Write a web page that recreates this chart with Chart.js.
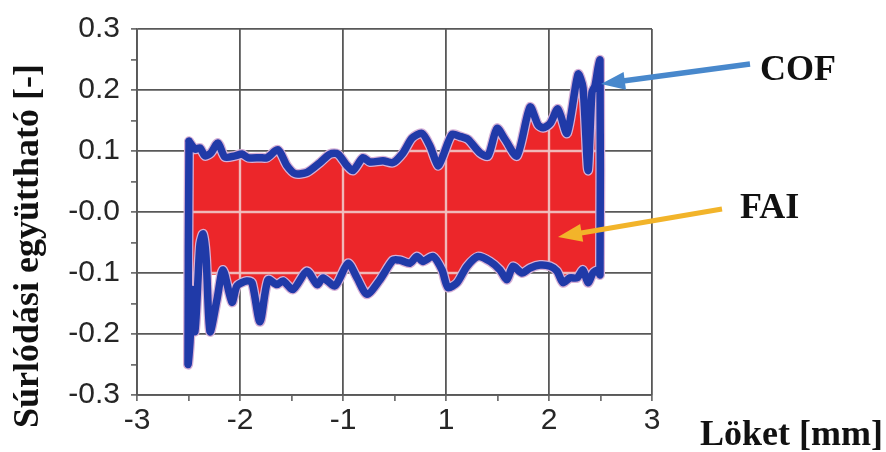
<!DOCTYPE html>
<html><head><meta charset="utf-8">
<script src="https://cdn.jsdelivr.net/npm/chart.js@4.4.0/dist/chart.umd.min.js"></script>
<style>html,body{margin:0;padding:0;background:#fff;}canvas{display:block;}</style>
</head><body>
<canvas id="c" width="886" height="452"></canvas>
<script>
// ---- data (x in axis-grid units: 0 = "-3", 1 = "-2", 2 = "-1", 3 = "1", 4 = "2", 5 = "3") ----
const xTickLabels = ['-3','-2','-1','1','2','3'];
const yTickValues = [-0.3,-0.2,-0.1,0,0.1,0.2,0.3];
const yTickLabels = ['-0.3','-0.2','-0.1','-0.0','0.1','0.2','0.3'];

const cofUpperX = [0.505,0.563,0.612,0.660,0.718,0.786,0.854,0.951,1.019,1.078,1.194,1.262,1.369,1.456,1.534,1.650,1.777,1.874,1.951,2.039,2.097,2.194,2.262,2.388,2.485,2.583,2.670,2.767,2.845,2.922,2.971,3.058,3.136,3.214,3.330,3.408,3.495,3.573,3.689,3.816,3.893,3.942,4.010,4.087,4.175,4.282,4.330,4.379,4.417,4.447,4.476,4.495];
const cofUpperY = [0.116,0.103,0.105,0.092,0.097,0.113,0.090,0.092,0.095,0.089,0.089,0.089,0.102,0.076,0.063,0.065,0.081,0.095,0.095,0.076,0.068,0.089,0.082,0.084,0.081,0.097,0.121,0.129,0.108,0.076,0.092,0.127,0.124,0.119,0.097,0.092,0.137,0.119,0.092,0.172,0.143,0.138,0.145,0.169,0.129,0.226,0.204,0.068,0.196,0.207,0.236,0.249];

const cofLowerX = [0.495,0.515,0.534,0.563,0.592,0.612,0.641,0.670,0.709,0.777,0.835,0.922,0.971,1.068,1.117,1.194,1.272,1.359,1.417,1.515,1.650,1.748,1.806,1.922,2.049,2.136,2.233,2.359,2.485,2.553,2.650,2.718,2.777,2.874,2.961,3.019,3.107,3.204,3.311,3.427,3.524,3.592,3.650,3.738,3.816,3.913,4.010,4.078,4.136,4.204,4.272,4.330,4.379,4.427,4.476,4.495];
const cofLowerY = [-0.249,-0.212,-0.127,-0.196,-0.111,-0.052,-0.036,-0.073,-0.196,-0.143,-0.095,-0.148,-0.121,-0.113,-0.116,-0.180,-0.111,-0.119,-0.113,-0.127,-0.097,-0.119,-0.108,-0.121,-0.084,-0.108,-0.135,-0.111,-0.079,-0.079,-0.084,-0.073,-0.081,-0.073,-0.095,-0.124,-0.116,-0.089,-0.073,-0.081,-0.095,-0.111,-0.089,-0.100,-0.092,-0.087,-0.089,-0.097,-0.116,-0.108,-0.108,-0.095,-0.116,-0.100,-0.095,-0.103];

const faiLowerX = [0.495,0.709,0.777,0.835,0.922,0.971,1.068,1.117,1.194,1.272,1.359,1.417,1.515,1.650,1.748,1.806,1.922,2.049,2.136,2.233,2.359,2.485,2.553,2.650,2.718,2.777,2.874,2.961,3.019,3.107,3.204,3.311,3.427,3.524,3.592,3.650,3.738,3.816,3.913,4.010,4.078,4.136,4.204,4.272,4.330,4.379,4.427,4.476,4.495];
const faiLowerY = [-0.100,-0.103,-0.102,-0.092,-0.118,-0.112,-0.106,-0.108,-0.150,-0.104,-0.115,-0.110,-0.122,-0.094,-0.115,-0.105,-0.117,-0.081,-0.104,-0.130,-0.107,-0.076,-0.076,-0.081,-0.070,-0.078,-0.070,-0.091,-0.119,-0.112,-0.086,-0.070,-0.078,-0.091,-0.106,-0.086,-0.096,-0.089,-0.084,-0.086,-0.093,-0.111,-0.104,-0.104,-0.092,-0.111,-0.097,-0.092,-0.100];

const yTitle = 'Súrlódási együttható [-]';
const xTitle = 'Löket [mm]';
const cofLabel = 'COF';
const faiLabel = 'FAI';

// ---- build datasets from arrays ----
const pts = (xs, ys) => xs.map((x, i) => ({x, y: ys[i]}));
const upperPts = pts(cofUpperX, cofUpperY);
const lowerPts = pts(cofLowerX, cofLowerY);
const cofLoop = upperPts.concat(lowerPts.slice().reverse(), [upperPts[0]]);
const faiLowerPts = pts(faiLowerX, faiLowerY);

const near = (a, b) => Math.abs(a - b) < 1e-6;
const isMajorY = v => yTickValues.some(t => near(t, v));
const isMajorX = v => near(v, Math.round(v));

const BLUE = 'rgb(32,58,168)';
const RED = 'rgb(236,38,42)';
const GRID = 'rgb(88,88,88)';

const faiGridPlugin = {
  id: 'faiGrid',
  beforeDatasetsDraw(chart) {
    const top = chart.getDatasetMeta(2).data, bot = chart.getDatasetMeta(3).data;
    const ctx = chart.ctx, xs = chart.scales.x, ys = chart.scales.y, a = chart.chartArea;
    ctx.save();
    ctx.beginPath();
    top.forEach((p, i) => i ? ctx.lineTo(p.x, p.y) : ctx.moveTo(p.x, p.y));
    for (let i = bot.length - 1; i >= 0; i--) ctx.lineTo(bot[i].x, bot[i].y);
    ctx.closePath();
    ctx.clip();
    ctx.strokeStyle = 'rgba(240,192,192,0.95)';
    ctx.lineWidth = 2.4;
    xTickLabels.forEach((_, i) => {
      const px = xs.getPixelForValue(i);
      ctx.beginPath(); ctx.moveTo(px, a.top); ctx.lineTo(px, a.bottom); ctx.stroke();
    });
    yTickValues.forEach(v => {
      const py = ys.getPixelForValue(v);
      ctx.beginPath(); ctx.moveTo(a.left, py); ctx.lineTo(a.right, py); ctx.stroke();
    });
    ctx.restore();
  }
};

function arrow(ctx, x1, y1, x2, y2, color, w, headLen, headHalf) {
  const ang = Math.atan2(y2 - y1, x2 - x1);
  const bx = x2 - headLen * Math.cos(ang), by = y2 - headLen * Math.sin(ang);
  ctx.save();
  ctx.strokeStyle = color; ctx.fillStyle = color; ctx.lineWidth = w; ctx.lineCap = 'butt';
  ctx.beginPath(); ctx.moveTo(x1, y1); ctx.lineTo(bx + 2 * Math.cos(ang), by + 2 * Math.sin(ang)); ctx.stroke();
  ctx.beginPath();
  ctx.moveTo(x2, y2);
  ctx.lineTo(bx + headHalf * Math.sin(ang), by - headHalf * Math.cos(ang));
  ctx.lineTo(bx - headHalf * Math.sin(ang), by + headHalf * Math.cos(ang));
  ctx.closePath(); ctx.fill();
  ctx.restore();
}

const annotPlugin = {
  id: 'annot',
  afterDraw(chart) {
    const ctx = chart.ctx;
    ctx.save();
    ctx.fillStyle = '#111';
    ctx.font = 'bold 36px "Liberation Serif", "Times New Roman", serif';
    ctx.save();
    ctx.translate(38, 246);
    ctx.rotate(-Math.PI / 2);
    ctx.textAlign = 'center';
    ctx.textBaseline = 'alphabetic';
    ctx.fillText(yTitle, 0, 0);
    ctx.restore();
    ctx.textAlign = 'left';
    ctx.textBaseline = 'alphabetic';
    ctx.fillText(xTitle, 700, 445);
    ctx.fillText(cofLabel, 760, 80);
    ctx.fillText(faiLabel, 740, 218);
    ctx.restore();
    arrow(ctx, 750, 64, 601, 84, 'rgb(72,136,204)', 5.5, 24, 9);
    arrow(ctx, 722, 209, 558, 237, 'rgb(242,180,42)', 5, 24, 9);
  }
};

new Chart(document.getElementById('c'), {
  type: 'line',
  data: {
    datasets: [
      { label: 'COF', data: cofLoop, borderColor: BLUE, borderWidth: 7.5, pointRadius: 0, tension: 0.25,
        borderJoinStyle: 'round', borderCapStyle: 'round', fill: false, order: 0 },
      { label: 'halo', data: cofLoop, borderColor: 'rgb(214,176,214)', borderWidth: 10, pointRadius: 0, tension: 0.25,
        borderJoinStyle: 'round', borderCapStyle: 'round', fill: false, order: 1 },
      { label: 'FAI top', data: upperPts, borderWidth: 0, pointRadius: 0, tension: 0.25,
        backgroundColor: RED, fill: '+1', order: 2 },
      { label: 'FAI bottom', data: faiLowerPts, borderWidth: 0, pointRadius: 0, tension: 0.25,
        fill: false, order: 3 }
    ]
  },
  options: {
    responsive: false,
    animation: false,
    devicePixelRatio: 1,
    events: [],
    layout: { padding: { left: 0, top: 20, right: 234, bottom: 0 } },
    plugins: {
      legend: { display: false },
      tooltip: { enabled: false },
      filler: { drawTime: 'beforeDatasetsDraw' }
    },
    scales: {
      x: {
        type: 'linear', min: 0, max: 5,
        afterFit: s => { s.height = 57; },
        border: { display: true, color: GRID, width: 1.8 },
        grid: {
          color: c => (c.tick && isMajorX(c.tick.value)) ? GRID : 'rgba(0,0,0,0)',
          tickColor: GRID, lineWidth: 1.8, tickWidth: 1.5, tickLength: 6, drawTicks: true
        },
        ticks: {
          stepSize: 0.5, autoSkip: false, maxRotation: 0, padding: 2, color: '#262626',
          font: { family: '"Liberation Sans", Arial, sans-serif', size: 30 },
          callback: v => isMajorX(v) ? xTickLabels[Math.round(v)] : ''
        }
      },
      y: {
        type: 'linear', min: -0.3, max: 0.3,
        afterFit: s => { s.width = 137; },
        border: { display: true, color: GRID, width: 1.8 },
        grid: {
          color: c => (c.tick && isMajorY(c.tick.value)) ? GRID : 'rgba(0,0,0,0)',
          tickColor: GRID, lineWidth: 1.8, tickWidth: 1.5, tickLength: 6, drawTicks: true
        },
        ticks: {
          stepSize: 0.05, autoSkip: false, padding: 11, color: '#262626',
          font: { family: '"Liberation Sans", Arial, sans-serif', size: 30 },
          callback: v => { const i = yTickValues.findIndex(t => near(t, v)); return i >= 0 ? yTickLabels[i] : ''; }
        }
      }
    }
  },
  plugins: [faiGridPlugin, annotPlugin]
});
</script>
</body></html>
